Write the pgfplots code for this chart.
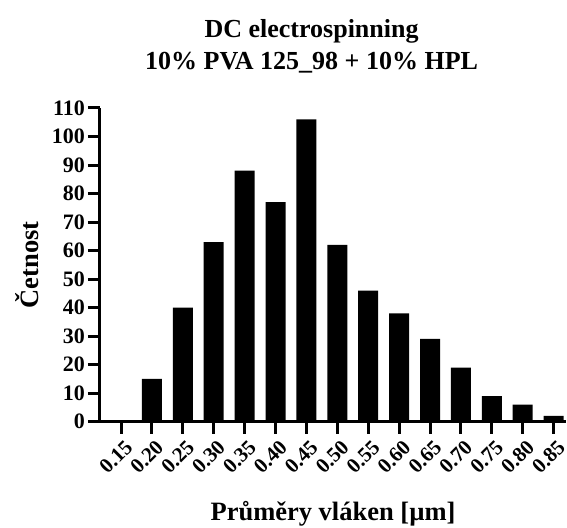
\documentclass[border=0pt]{standalone}
\usepackage{fontspec}
\setmainfont{Liberation Serif}
\usepackage{pgfplots}
\pgfplotsset{compat=1.18}
\begin{document}
\begin{tikzpicture}
\begin{axis}[
  name=ax,
  scale only axis,
  width=466pt, height=313.7pt,
  xmin=-0.68, xmax=14.40,
  ymin=0, ymax=110,
  enlargelimits=false,
  axis x line=bottom, axis y line=left,
  axis line style={-, line width=3pt},
  every tick/.style={black, line width=3pt},
  tick align=outside,
  major tick length=12pt,
  ytick={0,10,...,110},
  xtick={0,...,14},
  xticklabels={0.15,0.20,0.25,0.30,0.35,0.40,0.45,0.50,0.55,0.60,0.65,0.70,0.75,0.80,0.85},
  /pgf/number format/assume math mode=true,
  yticklabel style={font=\bfseries\fontsize{22}{22}\selectfont, inner sep=3pt},
  xticklabel style={font=\bfseries\fontsize{21}{21}\selectfont, rotate=45, anchor=north east, inner sep=2.5pt, yshift=-3pt, xshift=1pt},
  title={DC electrospinning\\10\% PVA 125\_98 + 10\% HPL},
  title style={font=\bfseries\fontsize{26}{32}\selectfont, align=center, at={(axis description cs:0.454,1)}, anchor=south, inner sep=0pt, yshift=29pt},
  xlabel={Průměry vláken [µm]},
  xlabel style={font=\bfseries\fontsize{26.5}{26.5}\selectfont, at={(axis description cs:0.5,0)}, anchor=base, yshift=-98.3pt},
  ylabel={Četnost},
  ylabel style={font=\bfseries\fontsize{26.5}{26.5}\selectfont, at={(axis description cs:-0.1324,0.5)}, anchor=base},
  ybar, bar width=20pt,
]
\addplot[fill=black, draw=none] coordinates {
(0,0) (1,15) (2,40) (3,63) (4,88) (5,77) (6,106) (7,62) (8,46) (9,38) (10,29) (11,19) (12,9) (13,6) (14,2)
};
\end{axis}
\pgfresetboundingbox
\path ([shift={(-100pt,-105.3pt)}]ax.south west) rectangle ([shift={(1pt,108pt)}]ax.north east);
\end{tikzpicture}
\end{document}
